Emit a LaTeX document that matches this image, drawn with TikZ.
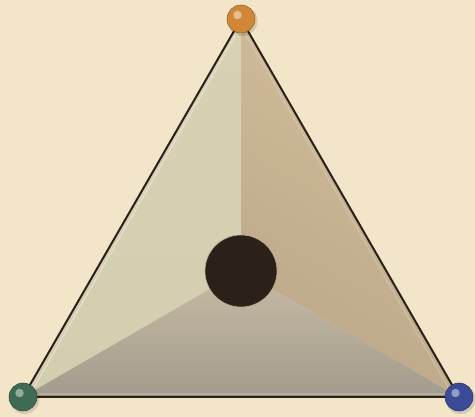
\documentclass[tikz,border=0pt]{standalone}
\usetikzlibrary{shadings,calc}
\definecolor{bg}{HTML}{F3E5C8}
\definecolor{edge}{HTML}{2A2018}
\definecolor{hub}{HTML}{2B2118}
\definecolor{lefttop}{HTML}{D8D1B3}
\definecolor{leftbot}{HTML}{D4CEB0}
\definecolor{righttop}{HTML}{D2BC9A}
\definecolor{rightbot}{HTML}{BCA98A}
\definecolor{bottop}{HTML}{C6BBA5}
\definecolor{botbot}{HTML}{A39B8C}
\definecolor{orangeball}{HTML}{D08838}
\definecolor{greenball}{HTML}{3F6B54}
\definecolor{blueball}{HTML}{3C4B95}
\tikzset{
  ball/.style={circle, minimum size=28pt, inner sep=0pt},
  hl/.style={fill=white, fill opacity=0.45},
  tri/.style={draw=edge, line width=2pt, line join=round},
  inner/.style={white, opacity=0.35, line width=1.2pt},
}
\begin{document}
\begin{tikzpicture}[x=1pt,y=-1pt]
\fill[bg] (0,0) rectangle (475,417);
\useasboundingbox (0,0) rectangle (475,417);
% soft glow
\fill[white, opacity=0.035] (241,250) circle (175);
\coordinate (T) at (241,19);
\coordinate (L) at (23,397);
\coordinate (R) at (459,397);
\coordinate (C) at (241,271);
% regions
\shade[top color=lefttop, bottom color=leftbot] (T) -- (C) -- (L) -- cycle;
\shade[left color=righttop, right color=rightbot, shading angle=-30] (T) -- (R) -- (C) -- cycle;
\shade[top color=bottop, bottom color=botbot] (L) -- (C) -- (R) -- cycle;
% inner highlights along edges
\draw[inner] ($(T)+(0,7)$) -- ($(L)+(7,-3)$);
\draw[inner, opacity=0.2] ($(T)+(0,7)$) -- ($(R)+(-7,-3)$);
\draw[inner, opacity=0.2] ($(L)+(7,-3)$) -- ($(R)+(-7,-3)$);
% triangle outline
\draw[tri] (T) -- (R) -- (L) -- cycle;
% hub
\node[circle, fill=hub, draw=bg!70!hub, line width=0.6pt, minimum size=72pt, inner sep=0pt] (hubnode) at (C) {};
% balls with shadows
\foreach \p/\c/\n in {T/orangeball/top, L/greenball/left, R/blueball/right}{
  \fill[black, opacity=0.12] ($(\p)+(1.5,2)$) circle (15);
  \node[ball, fill=\c, draw=\c!70!black, line width=0.5pt] (\n) at (\p) {};
  \fill[hl] ($(\p)+(-3.5,-4)$) circle (4.2);
}
\end{tikzpicture}
\end{document}
